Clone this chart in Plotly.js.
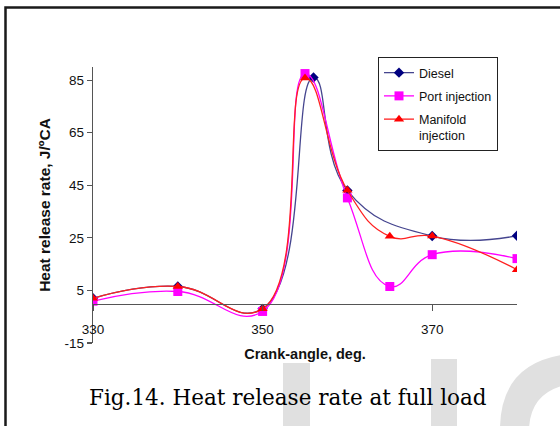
<!DOCTYPE html>
<html>
<head>
<meta charset="utf-8">
<script src="https://cdn.plot.ly/plotly-3.0.1.min.js"></script>
<style>html,body{margin:0;padding:0;background:#fff;}#chart{width:560px;height:426px;}</style>
</head>
<body>
<div id="chart"></div>
<script>
// Data
const xDiesel = [330, 340, 350, 356, 360, 370, 380];
const diesel = [2, 6.5, -2, 86, 43, 25.7, 25.8];
const xPort = [330, 340, 350, 355, 360, 365, 370, 380];
const portInjection = [0.9, 4.6, -3, 87.5, 40.2, 6.5, 18.6, 17.1];
const xManifold = [330, 340, 350, 355, 360, 365, 370, 380];
const manifoldInjection = [2, 6.5, -2, 85.8, 43.1, 25.6, 25.7, 12.9];
const seriesNames = ['Diesel', 'Port injection', 'Manifold<br>injection'];
const xTickVals = [330, 350, 370];
const xTickText = ['330', '350', '370'];
const yTickVals = [-15, 5, 25, 45, 65, 85];
const yTickText = ['-15', '5', '25', '45', '65', '85'];

const W = 560, H = 426;
const M = {l: 93, r: 43, t: 67, b: 83};
const PW = W - M.l - M.r, PH = H - M.t - M.b;
const px = x => (x - M.l) / PW;
const py = y => (H - M.b - y) / PH;

const font = 'Liberation Sans, Arial, sans-serif';
const traces = [
  {x: xDiesel, y: diesel, name: seriesNames[0], mode: 'lines+markers', legendgroup: 'a',
   line: {color: '#45458f', width: 1.3, shape: 'spline', smoothing: 1.3},
   marker: {symbol: 'diamond', size: 8, color: '#000080'}},
  {x: xPort, y: portInjection, name: seriesNames[1], mode: 'lines+markers', legendgroup: 'b',
   line: {color: '#ff00ff', width: 1.3, shape: 'spline', smoothing: 1.3},
   marker: {symbol: 'square', size: 9, color: '#ff00ff'}},
  {x: xManifold, y: manifoldInjection, name: seriesNames[2], mode: 'lines+markers', legendgroup: 'c',
   line: {color: '#ff2020', width: 1.3, shape: 'spline', smoothing: 1.3},
   marker: {symbol: 'triangle-up', size: 9, color: '#ff0000'}}
];

const gray = '#e0e0e0';
const shapes = [
  {type: 'rect', xref: 'paper', yref: 'paper', layer: 'below', x0: px(283), x1: px(310), y0: py(363), y1: py(430), fillcolor: gray, line: {width: 0}},
  {type: 'rect', xref: 'paper', yref: 'paper', layer: 'below', x0: px(431), x1: px(457), y0: py(359), y1: py(430), fillcolor: gray, line: {width: 0}},
  {type: 'path', xref: 'paper', yref: 'paper', layer: 'below',
   path: `M ${px(500)} ${py(430)} Q ${px(500)} ${py(365)} ${px(562)} ${py(355)} L ${px(562)} ${py(386)} Q ${px(530)} ${py(395)} ${px(529)} ${py(430)} Z`,
   fillcolor: gray, line: {width: 0}},
  {type: 'rect', xref: 'paper', yref: 'paper', x0: px(5.5), x1: px(570), y0: py(7.5), y1: py(440), line: {color: '#1a1a1a', width: 2.5}}
];

const layout = {
  width: W, height: H,
  margin: M,
  paper_bgcolor: '#fff', plot_bgcolor: 'rgba(0,0,0,0)',
  showlegend: true,
  font: {family: font, color: '#000', size: 13},
  xaxis: {
    range: [330, 380], tickvals: xTickVals, ticktext: xTickText, ticks: 'outside', ticklen: 6, tickcolor: '#555', tickwidth: 1.2,
    showline: true, linecolor: '#555', linewidth: 1.3, showgrid: false, zeroline: false,
    anchor: 'free', position: 15 / 105, ticklabelstandoff: 7,
    tickfont: {family: font, size: 13.5, color: '#111'},
    title: {text: '<b>Crank-angle, deg.</b>', font: {family: font, size: 14.5, color: '#111'}, standoff: 12}
  },
  yaxis: {
    range: [-15, 90], tickvals: yTickVals, ticktext: yTickText, ticks: 'outside', ticklen: 5, tickcolor: '#555', tickwidth: 1.2,
    showline: true, linecolor: '#555', linewidth: 1.3, showgrid: false, zeroline: false,
    tickfont: {family: font, size: 13.5, color: '#111'},
    title: {text: '<b>Heat release rate, J/ºCA</b>', font: {family: font, size: 15.5, color: '#111'}, standoff: 10}
  },
  legend: {
    x: px(378), y: py(57), xanchor: 'left', yanchor: 'top',
    bgcolor: '#fff', bordercolor: '#222', borderwidth: 1,
    font: {family: font, size: 12.5, color: '#111'},
    traceorder: 'grouped', tracegroupgap: 4, itemwidth: 30, valign: 'top'
  },
  shapes: shapes,
  annotations: [
    {text: 'Fig.14. Heat release rate at full load', xref: 'paper', yref: 'paper',
     x: px(87), y: py(397), xanchor: 'left', yanchor: 'middle', showarrow: false,
     font: {family: 'DejaVu Serif, serif', size: 21.5, color: '#000'}}
  ]
};

Plotly.newPlot('chart', traces, layout, {displayModeBar: false, staticPlot: true});
</script>
</body>
</html>
